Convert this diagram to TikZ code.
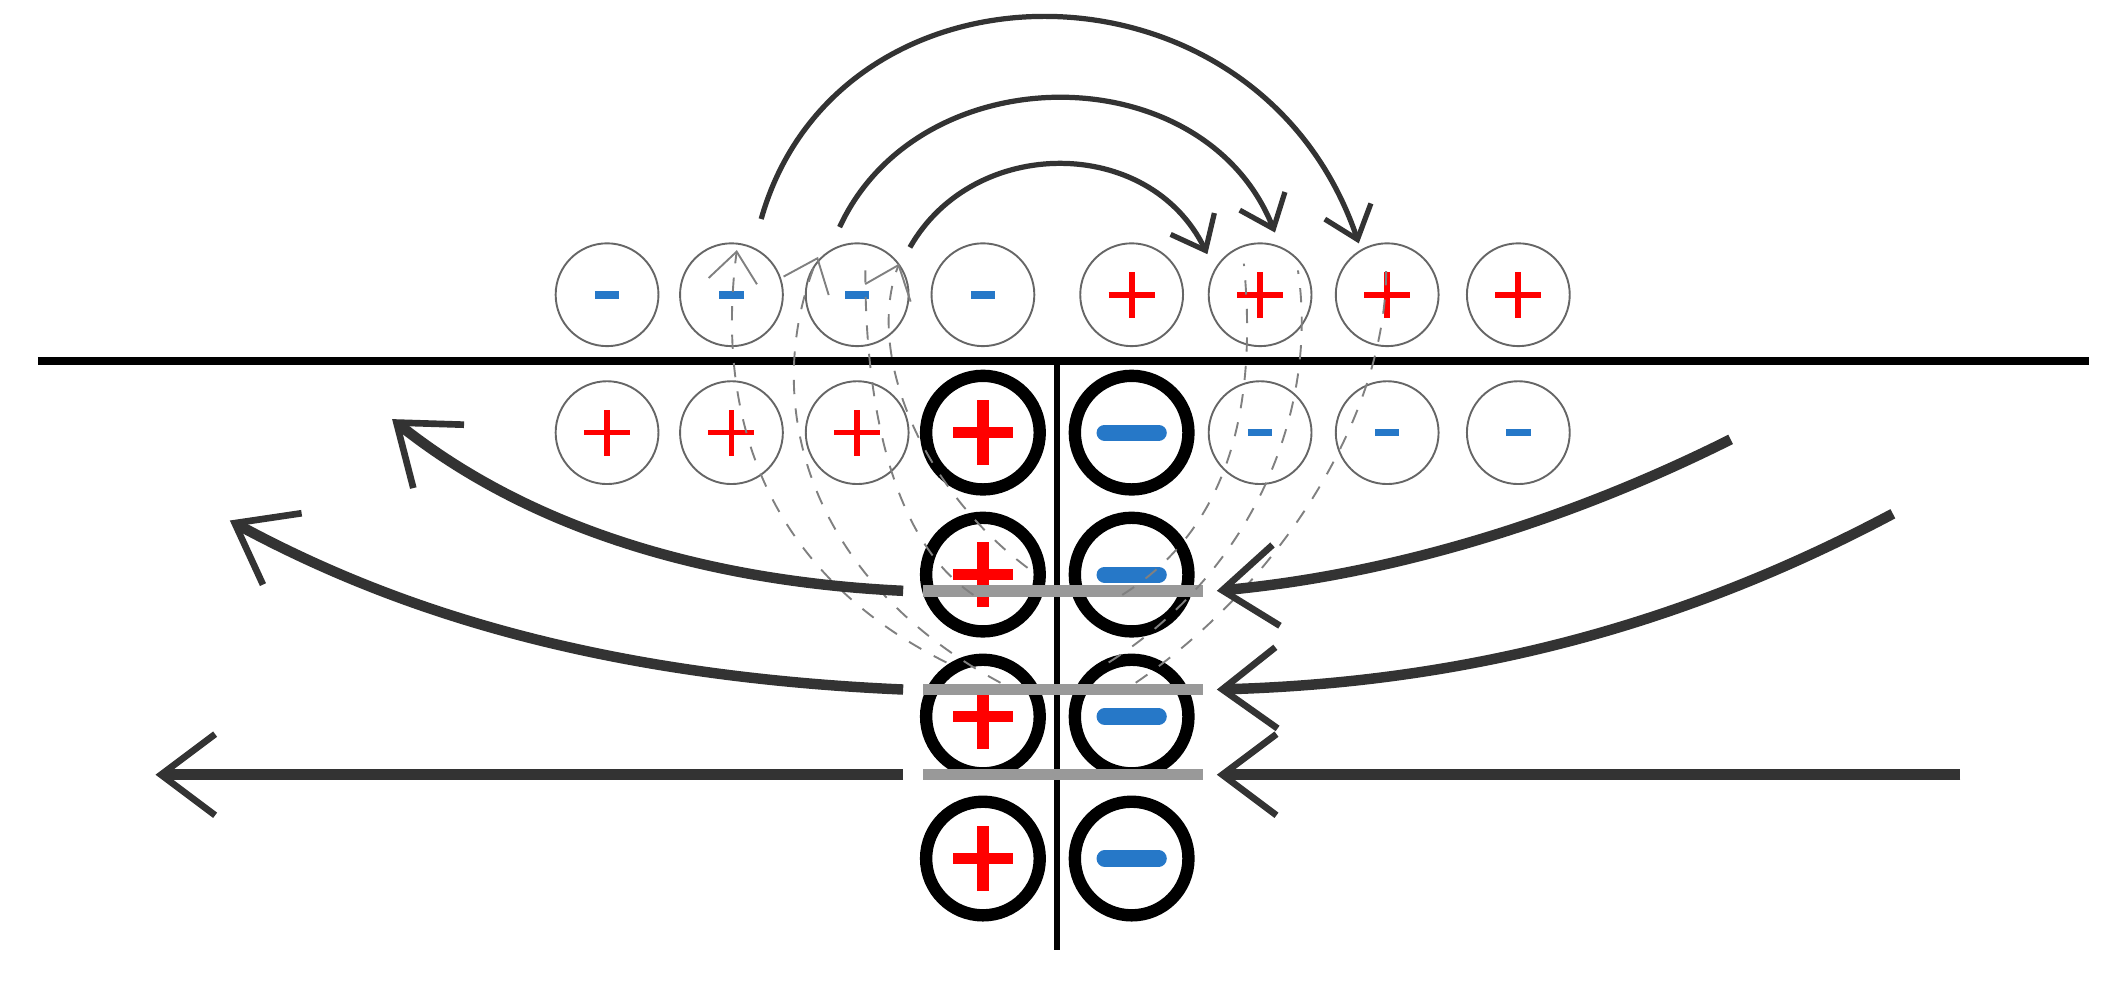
\documentclass[tikz,border=0pt]{standalone}
\usepackage{tikz}
\usetikzlibrary{arrows.meta}
\definecolor{minblue}{RGB}{38,120,200}
\newcommand{\fld}{-{Straight Barb[length=4mm,width=6mm,line width=1.4pt]}}
\newcommand{\thn}{-{Straight Barb[length=2.2mm,width=3.6mm]}}
\tikzset{
  ion/.style={circle,draw=black!60,line width=0.4pt,minimum size=0.76cm,inner sep=0pt},
  big/.style={circle,draw=black,line width=2.6pt,minimum size=0.84cm,inner sep=0pt},
  pl/.style={path picture={\draw[red,line width=#1]
    ([xshift=-0.17cm]path picture bounding box.center) -- ([xshift=0.17cm]path picture bounding box.center)
    ([yshift=-0.17cm]path picture bounding box.center) -- ([yshift=0.17cm]path picture bounding box.center);}},
  pl/.default=1.2pt,
  bpl/.style={path picture={\draw[red,line width=2.4pt]
    ([xshift=-0.22cm]path picture bounding box.center) -- ([xshift=0.22cm]path picture bounding box.center)
    ([yshift=-0.24cm]path picture bounding box.center) -- ([yshift=0.24cm]path picture bounding box.center);}},
  mi/.style={path picture={\draw[minblue,line width=1.6pt]
    ([xshift=-0.09cm]path picture bounding box.center) -- ([xshift=0.09cm]path picture bounding box.center);}},
  bmi/.style={path picture={\draw[minblue,line width=3.4pt,line cap=round]
    ([xshift=-0.2cm]path picture bounding box.center) -- ([xshift=0.2cm]path picture bounding box.center);}},
  field/.style={draw=black!80,line width=2.2pt},
  bar/.style={draw=black!40,line width=2.4pt},
  guide/.style={draw=black!50,dashed,line width=0.4pt}
}
\begin{document}
\begin{tikzpicture}[x=0.01cm,y=-0.01cm]
\useasboundingbox (0,0) rectangle (1568,734);
%surface
\draw[line width=1.6pt] (28,267) -- (1545,267);
\draw[line width=1.2pt] (782,267) -- (782,703);
%top row
\foreach \n/\x in {1/449,2/541,3/634,4/727} \node[ion,mi] (t\n) at (\x,218) {};
\foreach \n/\x in {5/837,6/932,7/1026,8/1123} \node[ion,pl] (t\n) at (\x,218) {};
%second row
\foreach \n/\x in {1/449,2/541,3/634} \node[ion,pl] (s\n) at (\x,320) {};
\foreach \n/\x in {6/932,7/1026,8/1123} \node[ion,mi] (s\n) at (\x,320) {};
%dipole column
\foreach \r/\y in {1/320,2/425,3/530,4/635} {
  \node[big,bpl] (p\r) at (727,\y) {};
  \node[big,bmi] (m\r) at (837,\y) {};
}
%gray bars
\coordinate (ba1) at (683,437); \coordinate (bb1) at (890,437);
\coordinate (ba2) at (683,510); \coordinate (bb2) at (890,510);
\coordinate (ba3) at (683,573); \coordinate (bb3) at (890,573);
\foreach \i in {1,2,3} \draw[bar] (ba\i) -- (bb\i);
%dashed guides
\draw[guide,\thn] (700,490) .. controls (560,420) and (530,300) .. (545,185);
\draw[guide,\thn] (740,505) .. controls (600,430) and (560,300) .. (605,190);
\draw[guide] (720,440) .. controls (660,400) and (640,300) .. (640,200);
\draw[guide,\thn] (760,420) .. controls (680,360) and (640,260) .. (665,195);
\draw[guide] (820,490) .. controls (930,420) and (975,300) .. (960,200);
\draw[guide] (840,505) .. controls (950,430) and (1030,300) .. (1025,190);
\draw[guide] (830,440) .. controls (910,390) and (930,300) .. (920,195);
%jumps above the surface
\coordinate (j1) at (563,162); \coordinate (k1) at (1005,180);
\coordinate (j2) at (621,168); \coordinate (k2) at (943,172);
\coordinate (j3) at (673,183); \coordinate (k3) at (893,188);
\draw[black!80,line width=1.1pt,\thn] (j1) .. controls (620,-40) and (930,-40) .. (k1);
\draw[black!80,line width=1.1pt,\thn] (j2) .. controls (680,40) and (890,40) .. (k2);
\draw[black!80,line width=1.1pt,\thn] (j3) .. controls (720,100) and (850,100) .. (k3);
%field lines
\coordinate (l1) at (668,437); \coordinate (e1) at (290,310);
\coordinate (l2) at (668,510); \coordinate (e2) at (170,385);
\coordinate (l3) at (668,573); \coordinate (e3) at (115,573);
\coordinate (r1) at (1280,325); \coordinate (f1) at (900,437);
\coordinate (r2) at (1400,380); \coordinate (f2) at (900,510);
\coordinate (r3) at (1450,573); \coordinate (f3) at (900,573);
\draw[field,\fld] (l1) .. controls (520,430) and (390,390) .. (e1);
\draw[field,\fld] (l2) .. controls (440,500) and (290,450) .. (e2);
\draw[field,\fld] (l3) -- (e3);
\draw[field,\fld] (r1) .. controls (1160,385) and (1030,425) .. (f1);
\draw[field,\fld] (r2) .. controls (1240,465) and (1080,505) .. (f2);
\draw[field,\fld] (r3) -- (f3);
\end{tikzpicture}
\end{document}
